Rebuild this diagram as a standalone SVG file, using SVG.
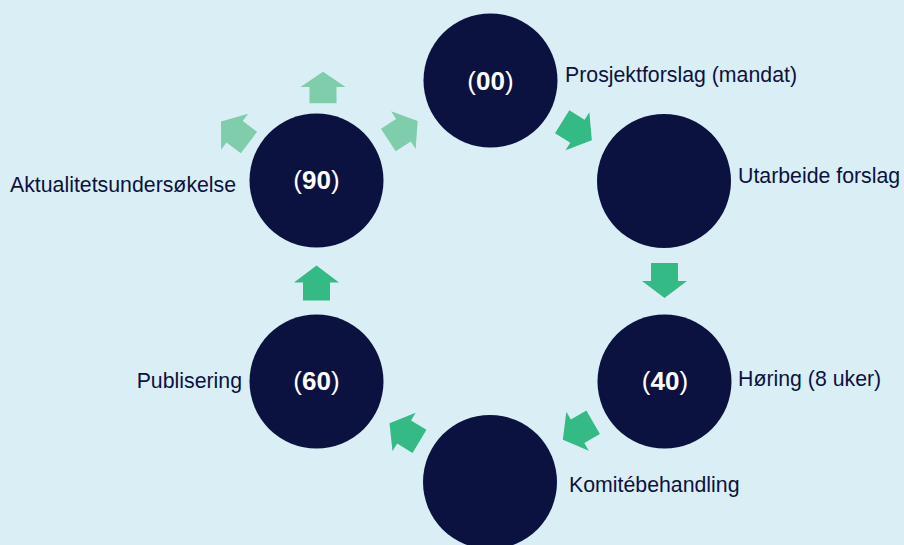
<svg xmlns="http://www.w3.org/2000/svg" xmlns:xlink="http://www.w3.org/1999/xlink" width="904" height="545" viewBox="0 0 904 545">
<style>
.node{fill:#0c1240}
.num{font-family:"Liberation Sans",Arial,sans-serif;font-size:26px;fill:#ffffff;text-anchor:middle}
.num tspan.d{font-weight:bold}
.lbl{font-family:"Liberation Sans",Arial,sans-serif;font-size:21.3px;fill:#0c1240}
.dark{fill:#34ba84}
.light{fill:#7fcdab}
</style>
<defs>
<path id="arr" d="M-17.5,-13.5 H0.5 V-22.5 L17.5,0 L0.5,22.5 V13.5 H-17.5 Z"/>
</defs>
<rect width="904" height="545" fill="#daeff5"/>
<g id="connectors">
<use xlink:href="#arr" class="dark" transform="translate(577,131) rotate(32)"/>
<use xlink:href="#arr" class="dark" transform="translate(664.5,280.5) rotate(90)"/>
<use xlink:href="#arr" class="dark" transform="translate(578,431) rotate(150)"/>
<use xlink:href="#arr" class="dark" transform="translate(404.5,432.3) rotate(-149)"/>
<use xlink:href="#arr" class="dark" transform="translate(316.5,283) rotate(-90)"/>
<use xlink:href="#arr" class="light" transform="translate(403,130.5) rotate(-33)"/>
<use xlink:href="#arr" class="light" transform="translate(235,132) rotate(-143)"/>
<use xlink:href="#arr" class="light" transform="translate(323,87.5) rotate(-90) scale(0.9,1)"/>
</g>
<g id="n00">
<circle class="node" cx="490.5" cy="80.5" r="67"/>
<text class="num" x="490.5" y="89.5">(<tspan class="d">00</tspan>)</text>
<text class="lbl" x="565" y="82">Prosjektforslag (mandat)</text>
</g>
<g id="n10">
<circle class="node" cx="664" cy="181" r="67"/>
<text class="lbl" x="738" y="183">Utarbeide forslag</text>
</g>
<g id="n40">
<circle class="node" cx="664.5" cy="381.5" r="67"/>
<text class="num" x="665" y="390">(<tspan class="d">40</tspan>)</text>
<text class="lbl" x="738" y="386">Høring (8 uker)</text>
</g>
<g id="n50">
<circle class="node" cx="490" cy="482" r="67"/>
<text class="lbl" x="569" y="492">Komitébehandling</text>
</g>
<g id="n60">
<circle class="node" cx="316.5" cy="381.5" r="67"/>
<text class="num" x="316.5" y="390">(<tspan class="d">60</tspan>)</text>
<text class="lbl" x="242" y="388" text-anchor="end">Publisering</text>
</g>
<g id="n90">
<circle class="node" cx="316.5" cy="180.5" r="67"/>
<text class="num" x="316.5" y="189">(<tspan class="d">90</tspan>)</text>
<text class="lbl" x="10" y="192">Aktualitetsundersøkelse</text>
</g>
</svg>
